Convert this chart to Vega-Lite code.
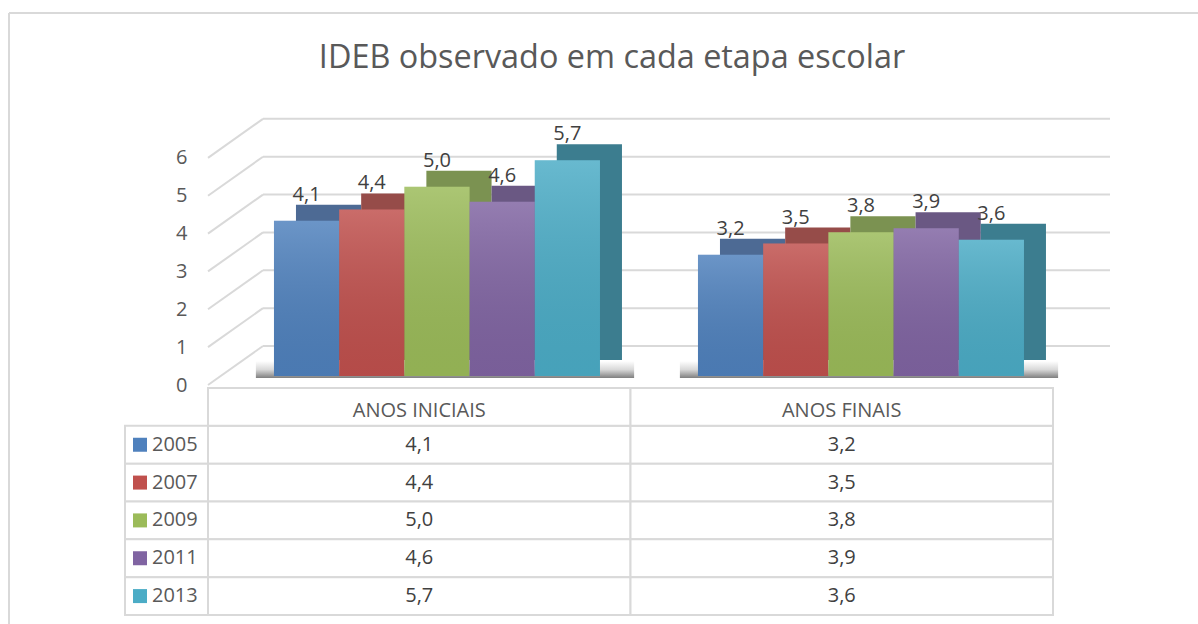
{
  "$schema": "https://vega.github.io/schema/vega-lite/v6.json",
  "autosize": {"type": "pad"},
  "padding": {"left": 8, "top": 12, "right": 0, "bottom": 0},
  "background": "white",
  "bounds": "flush",
  "spacing": 12,
  "config": {
    "font": "Open Sans",
    "view": {"stroke": null},
    "locale": {"number": {"decimal": ",", "thousands": ".", "grouping": [3], "currency": ["", ""]}}
  },
  "datasets": {
    "d": [
      {"etapa": "ANOS INICIAIS", "ano": "2005", "valor": 4.1},
      {"etapa": "ANOS INICIAIS", "ano": "2007", "valor": 4.4},
      {"etapa": "ANOS INICIAIS", "ano": "2009", "valor": 5.0},
      {"etapa": "ANOS INICIAIS", "ano": "2011", "valor": 4.6},
      {"etapa": "ANOS INICIAIS", "ano": "2013", "valor": 5.7},
      {"etapa": "ANOS FINAIS", "ano": "2005", "valor": 3.2},
      {"etapa": "ANOS FINAIS", "ano": "2007", "valor": 3.5},
      {"etapa": "ANOS FINAIS", "ano": "2009", "valor": 3.8},
      {"etapa": "ANOS FINAIS", "ano": "2011", "valor": 3.9},
      {"etapa": "ANOS FINAIS", "ano": "2013", "valor": 3.6}
    ],
    "grade": [{"v": 0}, {"v": 1}, {"v": 2}, {"v": 3}, {"v": 4}, {"v": 5}, {"v": 6}]
  },
  "vconcat": [
    {
      "width": 902,
      "height": 265,
      "title": {"text": "IDEB observado em cada etapa escolar", "fontSize": 32.4, "fontWeight": "normal", "color": "#595959", "anchor": "middle", "dx": -47, "offset": 11, "baseline": "alphabetic", "font": "Open Sans"},
      "resolve": {"scale": {"color": "independent", "xOffset": "independent"}},
      "layer": [
        {
          "data": {"name": "grade"},
          "mark": {"type": "rule", "color": "#d9d9d9", "strokeWidth": 2, "xOffset": 55, "yOffset": -30, "y2Offset": -30},
          "encoding": {
            "x": {"value": 0},
            "x2": {"value": "width"},
            "y": {"field": "v", "type": "quantitative", "scale": {"domain": [0, 7], "nice": false},
                  "axis": {"title": null, "values": [0, 1, 2, 3, 4, 5, 6], "grid": false, "domain": false, "ticks": false, "labelOffset": 9, "labelPadding": 21, "labelFontSize": 20, "labelColor": "#595959", "labelFont": "Open Sans"}},
            "y2": {"field": "v"}
          }
        },
        {
          "data": {"name": "grade"},
          "mark": {"type": "rule", "color": "#d9d9d9", "strokeWidth": 2, "x2Offset": 55, "yOffset": 9, "y2Offset": -30},
          "encoding": {
            "x": {"value": 0},
            "x2": {"value": 0},
            "y": {"field": "v", "type": "quantitative"},
            "y2": {"field": "v"}
          }
        },
        {
          "data": {"name": "d"},
          "transform": [{"filter": "datum.ano == '2005'"}],
          "mark": {"type": "bar", "width": {"band": 1.16}, "xOffset": 8, "yOffset": -15, "y2Offset": 2,
                   "fill": {"gradient": "linear", "x1": 0, "y1": 0, "x2": 0, "y2": 1, "stops": [{"offset": 0, "color": "rgba(0,0,0,0)"}, {"offset": 0.5, "color": "rgba(0,0,0,0.15)"}, {"offset": 1, "color": "rgba(0,0,0,0.5)"}]}},
          "encoding": {
            "x": {"field": "etapa", "type": "nominal", "sort": ["ANOS INICIAIS", "ANOS FINAIS"], "scale": {"range": [17, 865], "paddingInner": 0.231, "paddingOuter": 0.1155}, "axis": null},
            "y": {"datum": 0, "type": "quantitative"},
            "y2": {"datum": 0}
          }
        },
        {
          "data": {"name": "d"},
          "mark": {"type": "bar", "yOffset": -16, "y2Offset": -16},
          "encoding": {
            "x": {"field": "etapa", "type": "nominal", "sort": ["ANOS INICIAIS", "ANOS FINAIS"]},
            "xOffset": {"field": "ano", "type": "nominal", "scale": {"range": [22, 348], "paddingInner": 0, "paddingOuter": 0}},
            "y": {"field": "valor", "type": "quantitative"},
            "color": {"field": "ano", "type": "nominal", "legend": null, "scale": {"domain": ["2005", "2007", "2009", "2011", "2013"], "range": ["#4d6a94", "#964c49", "#7b9251", "#6a5883", "#3c7d8f"]}}
          }
        },
        {
          "data": {"name": "d"},
          "mark": {"type": "bar"},
          "encoding": {
            "x": {"field": "etapa", "type": "nominal", "sort": ["ANOS INICIAIS", "ANOS FINAIS"]},
            "xOffset": {"field": "ano", "type": "nominal", "scale": {"range": [0, 326], "paddingInner": 0, "paddingOuter": 0}},
            "y": {"field": "valor", "type": "quantitative"},
            "color": {"field": "ano", "type": "nominal", "legend": null, "scale": {"domain": ["2005", "2007", "2009", "2011", "2013"], "range": ["#4f81bd", "#c0504d", "#9bbb59", "#8064a2", "#4bacc6"]}}
          }
        },
        {
          "data": {"name": "d"},
          "mark": {"type": "bar", "fill": {"gradient": "linear", "x1": 0, "y1": 0, "x2": 0, "y2": 1, "stops": [{"offset": 0, "color": "rgba(255,255,255,0.16)"}, {"offset": 1, "color": "rgba(0,0,0,0.06)"}]}},
          "encoding": {
            "x": {"field": "etapa", "type": "nominal", "sort": ["ANOS INICIAIS", "ANOS FINAIS"]},
            "xOffset": {"field": "ano", "type": "nominal", "scale": {"range": [0, 326], "paddingInner": 0, "paddingOuter": 0}},
            "y": {"field": "valor", "type": "quantitative"}
          }
        },
        {
          "data": {"name": "d"},
          "mark": {"type": "text", "fontSize": 20, "color": "#404040", "baseline": "alphabetic", "dy": -20, "font": "Open Sans"},
          "encoding": {
            "x": {"field": "etapa", "type": "nominal", "sort": ["ANOS INICIAIS", "ANOS FINAIS"]},
            "xOffset": {"field": "ano", "type": "nominal", "scale": {"type": "point", "range": [32.6, 293.4], "padding": 0}},
            "y": {"field": "valor", "type": "quantitative"},
            "text": {"field": "valor", "type": "quantitative", "format": ".1f"}
          }
        }
      ]
    },
    {
      "width": 845,
      "height": 227,
      "layer": [
        {
          "data": {"values": [{}]},
          "mark": {"type": "rule", "color": "#d9d9d9", "strokeWidth": 2, "xOffset": -199, "x2Offset": 145, "yOffset": -375, "y2Offset": -375},
          "encoding": {"x": {"value": 0}, "x2": {"value": "width"}, "y": {"value": 0}, "y2": {"value": 0}}
        },
        {
          "data": {"values": [{}]},
          "mark": {"type": "rule", "color": "#d9d9d9", "strokeWidth": 2, "xOffset": -199, "x2Offset": -199, "yOffset": -375, "y2Offset": 9},
          "encoding": {"x": {"value": 0}, "x2": {"value": 0}, "y": {"value": 0}, "y2": {"value": "height"}}
        },
        {
          "data": {"name": "d"},
          "mark": {"type": "rect", "fill": "white", "stroke": "#d9d9d9", "strokeWidth": 2},
          "encoding": {
            "x": {"field": "etapa", "type": "nominal", "sort": ["ANOS INICIAIS", "ANOS FINAIS"], "scale": {"paddingInner": 0, "paddingOuter": 0}, "axis": null},
            "y": {"field": "ano", "type": "nominal", "scale": {"domain": ["cab", "2005", "2007", "2009", "2011", "2013"], "paddingInner": 0, "paddingOuter": 0}, "axis": null}
          }
        },
        {
          "data": {"name": "d"},
          "transform": [{"filter": "datum.ano == '2005'"}],
          "mark": {"type": "rect", "fill": "white", "stroke": "#d9d9d9", "strokeWidth": 2},
          "encoding": {
            "x": {"field": "etapa", "type": "nominal", "sort": ["ANOS INICIAIS", "ANOS FINAIS"]},
            "y": {"datum": "cab", "type": "nominal"}
          }
        },
        {
          "data": {"name": "d"},
          "transform": [{"filter": "datum.ano == '2005'"}],
          "mark": {"type": "text", "fontSize": 20, "color": "#595959", "baseline": "middle", "dy": 4, "font": "Open Sans"},
          "encoding": {
            "x": {"field": "etapa", "type": "nominal", "sort": ["ANOS INICIAIS", "ANOS FINAIS"]},
            "y": {"datum": "cab", "type": "nominal"},
            "text": {"field": "etapa"}
          }
        },
        {
          "data": {"name": "d"},
          "mark": {"type": "text", "fontSize": 20, "color": "#404040", "baseline": "middle", "font": "Open Sans"},
          "encoding": {
            "x": {"field": "etapa", "type": "nominal", "sort": ["ANOS INICIAIS", "ANOS FINAIS"]},
            "y": {"field": "ano", "type": "nominal"},
            "text": {"field": "valor", "type": "quantitative", "format": ".1f"}
          }
        },
        {
          "data": {"name": "d"},
          "transform": [{"filter": "datum.etapa == 'ANOS INICIAIS'"}],
          "mark": {"type": "rect", "fill": "white", "stroke": "#d9d9d9", "strokeWidth": 2, "xOffset": -83},
          "encoding": {
            "x": {"value": 0},
            "x2": {"value": 0},
            "y": {"field": "ano", "type": "nominal"}
          }
        },
        {
          "data": {"name": "d"},
          "transform": [{"filter": "datum.etapa == 'ANOS INICIAIS'"}],
          "mark": {"type": "point", "shape": "square", "filled": true, "size": 196, "opacity": 1, "xOffset": -68},
          "encoding": {
            "x": {"value": 0},
            "y": {"field": "ano", "type": "nominal"},
            "color": {"field": "ano", "type": "nominal", "legend": null, "scale": {"domain": ["2005", "2007", "2009", "2011", "2013"], "range": ["#4f81bd", "#c0504d", "#9bbb59", "#8064a2", "#4bacc6"]}}
          }
        },
        {
          "data": {"name": "d"},
          "transform": [{"filter": "datum.etapa == 'ANOS INICIAIS'"}],
          "mark": {"type": "text", "fontSize": 20, "color": "#595959", "baseline": "middle", "align": "left", "dx": -56, "font": "Open Sans"},
          "encoding": {
            "x": {"value": 0},
            "y": {"field": "ano", "type": "nominal"},
            "text": {"field": "ano"}
          }
        }
      ]
    }
  ]
}
